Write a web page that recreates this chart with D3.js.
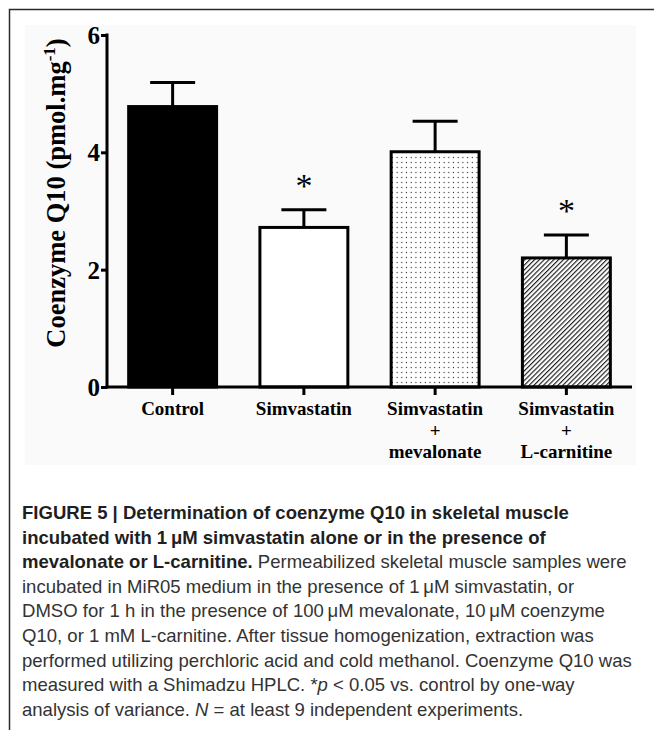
<!DOCTYPE html>
<html>
<head>
<meta charset="utf-8">
<script src="https://cdn.jsdelivr.net/npm/d3@7"></script>
<style>
  body { margin: 0; background: #fff; }
  svg { display: block; }
</style>
</head>
<body>
<div id="canvas"></div>
<script>
// values
var categories = ["Control", "Simvastatin", "Simvastatin + mevalonate", "Simvastatin + L-carnitine"];
var labelLines = [["Control"], ["Simvastatin"], ["Simvastatin", "+", "mevalonate"], ["Simvastatin", "+", "L-carnitine"]];
var means = [4.78, 2.72, 4.01, 2.20];
var sems = [0.41, 0.30, 0.52, 0.39];
var significant = [false, true, false, true];
var fills = ["#000", "#fff", "url(#dots)", "url(#hatch)"];
var yTicks = [0, 2, 4, 6];

var W = 654, H = 730;
var svg = d3.select('#canvas').append('svg')
  .attr('width', W)
  .attr('height', H);

var defs = svg.append('defs');
var dots = defs.append('pattern').attr('id', 'dots')
  .attr('patternUnits', 'userSpaceOnUse')
  .attr('width', 4.7).attr('height', 5);
dots.append('rect').attr('width', 4.7).attr('height', 5).attr('fill', '#fff');
dots.append('circle').attr('cx', 2.3).attr('cy', 2.5).attr('r', 0.65).attr('fill', '#333');

var hatch = defs.append('pattern').attr('id', 'hatch')
  .attr('patternUnits', 'userSpaceOnUse')
  .attr('width', 3.4).attr('height', 10)
  .attr('patternTransform', 'rotate(45)');
hatch.append('rect').attr('width', 3.4).attr('height', 10).attr('fill', '#fff');
hatch.append('line').attr('x1', 0.6).attr('x2', 0.6).attr('y1', 0).attr('y2', 10)
  .attr('stroke', '#111').attr('stroke-width', 1.1);

// frame of the page
svg.append('path')
  .attr('d', 'M9.5,' + H + 'V9.5H' + W)
  .attr('fill', 'none').attr('stroke', '#2b2b2b').attr('stroke-width', 1.5);

// chart image background
svg.append('rect')
  .attr('x', 25).attr('y', 25).attr('width', 611).attr('height', 440)
  .attr('fill', '#fafafa');

var x = d3.scaleBand()
  .domain(categories)
  .range([107, 632])
  .paddingInner(0.33)
  .paddingOuter(0.165);

var y = d3.scaleLinear()
  .domain([0, 6])
  .range([387, 35]);

var serif = '"Liberation Serif", "Times New Roman", serif';

// bars
svg.selectAll('rect.bar').data(categories)
  .enter().append('rect')
  .attr('class', 'bar')
  .attr('x', function (d) { return x(d); })
  .attr('y', function (d, i) { return y(means[i]); })
  .attr('width', x.bandwidth())
  .attr('height', function (d, i) { return y(0) - y(means[i]); })
  .attr('fill', function (d, i) { return fills[i]; })
  .attr('stroke', '#000')
  .attr('stroke-width', 3);

// error bars (upper only)
var eb = svg.selectAll('g.err').data(categories)
  .enter().append('g').attr('class', 'err');
eb.append('line')
  .attr('x1', function (d) { return x(d) + x.bandwidth() / 2; })
  .attr('x2', function (d) { return x(d) + x.bandwidth() / 2; })
  .attr('y1', function (d, i) { return y(means[i]); })
  .attr('y2', function (d, i) { return y(means[i] + sems[i]); })
  .attr('stroke', '#000').attr('stroke-width', 3);
eb.append('line')
  .attr('x1', function (d) { return x(d) + x.bandwidth() / 2 - 22.5; })
  .attr('x2', function (d) { return x(d) + x.bandwidth() / 2 + 22.5; })
  .attr('y1', function (d, i) { return y(means[i] + sems[i]); })
  .attr('y2', function (d, i) { return y(means[i] + sems[i]); })
  .attr('stroke', '#000').attr('stroke-width', 3);

// significance stars
svg.selectAll('text.star').data(categories.filter(function (d, i) { return significant[i]; }))
  .enter().append('text')
  .attr('class', 'star')
  .attr('x', function (d) { return x(d) + x.bandwidth() / 2; })
  .attr('y', function (d) { var i = categories.indexOf(d); return y(means[i] + sems[i]) - 13; })
  .attr('text-anchor', 'middle')
  .style('font-family', serif)
  .style('font-size', '34px')
  .text('*');

// y axis
var yAxis = svg.append('g')
  .attr('transform', 'translate(107,0)')
  .call(d3.axisLeft(y).tickValues(yTicks).tickFormat(d3.format('d'))
    .tickSize(6).tickSizeOuter(0).tickPadding(1));
yAxis.select('.domain').attr('stroke-width', 3).attr('d', 'M0,' + (y(0) + 1.5) + 'V' + (y(6) - 1.5));
yAxis.selectAll('.tick line').attr('stroke-width', 3);
yAxis.selectAll('.tick text')
  .style('font-family', serif).style('font-weight', 'bold').style('font-size', '25px')
  .attr('fill', '#000').attr('dy', '0.34em');

// x axis
var xAxis = svg.append('g')
  .attr('transform', 'translate(0,' + y(0) + ')')
  .call(d3.axisBottom(x).tickSize(8).tickSizeOuter(0).tickFormat(''));
xAxis.select('.domain').attr('stroke-width', 3).attr('d', 'M105.5,0H632');
xAxis.selectAll('.tick line').attr('stroke-width', 3);

// category labels
var lab = svg.selectAll('text.cat').data(categories)
  .enter().append('text')
  .attr('class', 'cat')
  .attr('text-anchor', 'middle')
  .style('font-family', serif).style('font-weight', 'bold').style('font-size', '19px');
lab.selectAll('tspan').data(function (d, i) {
    return labelLines[i].map(function (t) { return { t: t, c: d }; });
  })
  .enter().append('tspan')
  .attr('x', function (d) { return x(d.c) + x.bandwidth() / 2; })
  .attr('y', function (d, j) { return 415 + j * 21.5; })
  .text(function (d) { return d.t; });

// y title
var yt = svg.append('text')
  .attr('transform', 'translate(65,' + 193 + ') rotate(-90)')
  .attr('text-anchor', 'middle')
  .style('font-family', serif).style('font-weight', 'bold').style('font-size', '26.5px');
yt.append('tspan').text('Coenzyme Q10 (pmol.mg');
yt.append('tspan').attr('dy', -10).style('font-size', '17px').text('-1');
yt.append('tspan').attr('dy', 10).text(')');

// caption
var capLines = [
  [["FIGURE 5 | Determination of coenzyme Q10 in skeletal muscle", "b"]],
  [["incubated with 1\u2009\u03bcM simvastatin alone or in the presence of", "b"]],
  [["mevalonate or L-carnitine.", "b"], [" Permeabilized skeletal muscle samples were", "r"]],
  [["incubated in MiR05 medium in the presence of 1\u2009\u03bcM simvastatin, or", "r"]],
  [["DMSO for 1 h in the presence of 100\u2009\u03bcM mevalonate, 10\u2009\u03bcM coenzyme", "r"]],
  [["Q10, or 1 mM L-carnitine. After tissue homogenization, extraction was", "r"]],
  [["performed utilizing perchloric acid and cold methanol. Coenzyme Q10 was", "r"]],
  [["measured with a Shimadzu HPLC. *", "r"], ["p", "i"], [" < 0.05 vs. control by one-way", "r"]],
  [["analysis of variance. ", "r"], ["N", "i"], [" = at least 9 independent experiments.", "r"]]
];

var cap = svg.append('g')
  .style('font-family', '"Liberation Sans", Arial, sans-serif');
var capTexts = cap.selectAll('text').data(capLines)
  .enter().append('text')
  .attr('x', 22)
  .attr('y', function (d, i) { return 519 + i * 24.6; });
capTexts.selectAll('tspan').data(function (d) { return d; })
  .enter().append('tspan')
  .attr('fill', function (d) { return d[1] === 'b' ? '#1f1f1f' : '#333'; })
  .style('font-weight', function (d) { return d[1] === 'b' ? 'bold' : 'normal'; })
  .style('font-style', function (d) { return d[1] === 'i' ? 'italic' : 'normal'; })
  .text(function (d) { return d[0]; });

// fit caption size so the widest line spans like the figure
cap.style('font-size', '16px');
var widest = d3.max(capTexts.nodes(), function (n) { return n.getComputedTextLength(); });
cap.style('font-size', (16 * 610 / widest).toFixed(2) + 'px');
</script>
</body>
</html>
